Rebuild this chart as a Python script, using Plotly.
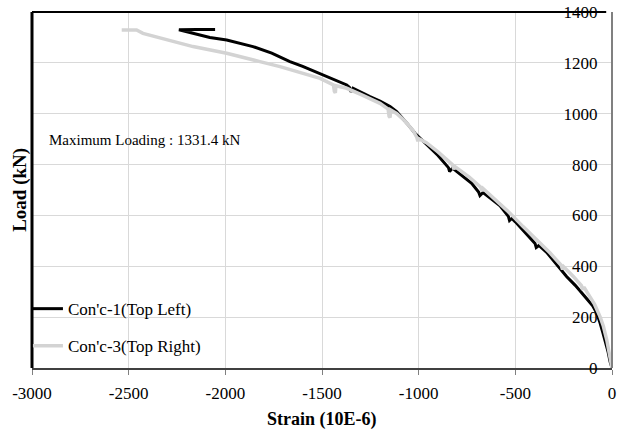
import plotly.graph_objects as go

# Con'c-1 (Top Left): strain (10E-6), load (kN)
strain_c1 = [0, -10, -20, -32, -47, -62, -79, -100, -125, -148, -190, -235, -290, -338, -378, -392, -398,
             -450, -500, -518, -530, -536, -579, -625, -667, -683, -690, -726, -780, -825, -840, -846,
             -900, -967, -1019, -1060, -1097, -1114, -1148, -1200, -1252, -1300, -1340, -1350, -1358,
             -1372, -1450, -1510, -1600, -1666, -1717, -1760, -1857, -1993, -2080, -2148, -2200, -2240,
             -2150, -2053]
load_c1 = [0, 25, 62, 100, 138, 178, 216, 245, 268, 287, 325, 360, 412, 455, 482, 474, 490,
           535, 575, 588, 580, 596, 638, 665, 690, 678, 692, 726, 760, 786, 773, 788,
           836, 884, 923, 962, 995, 1008, 1028, 1050, 1067, 1085, 1100, 1086, 1104,
           1113, 1138, 1159, 1186, 1205, 1224, 1238, 1264, 1290, 1300, 1312, 1322, 1330,
           1331, 1331]

# Con'c-3 (Top Right)
strain_c3 = [0, -8, -17, -27, -45, -62, -90, -120, -145, -152, -158, -200, -250, -256, -263, -320,
             -390, -460, -528, -580, -630, -667, -672, -680, -740, -812, -818, -826, -900, -960,
             -1000, -1004, -1010, -1029, -1070, -1114, -1145, -1148, -1153, -1158, -1165, -1200, -1300,
             -1372, -1428, -1431, -1436, -1441, -1510, -1600, -1666, -1717, -1821, -1993, -2167, -2338,
             -2426, -2459, -2536]
load_c3 = [0, 35, 75, 110, 165, 202, 250, 290, 318, 308, 324, 360, 398, 388, 404, 452,
           503, 556, 609, 645, 680, 706, 696, 712, 752, 792, 782, 800, 850, 886,
           902, 892, 908, 934, 970, 1001, 1015, 985, 990, 1018, 1022, 1041, 1076,
           1100, 1110, 1082, 1088, 1113, 1139, 1160, 1172, 1185, 1205, 1238, 1264, 1297,
           1316, 1329, 1329]

series_names = ["Con'c-1(Top Left)", "Con'c-3(Top Right)"]
x_ticks = [-3000, -2500, -2000, -1500, -1000, -500, 0]
y_ticks = [0, 200, 400, 600, 800, 1000, 1200, 1400]

FONT = "Liberation Serif"

fig = go.Figure()
fig.add_trace(go.Scatter(x=strain_c1, y=load_c1, mode="lines", name=series_names[0],
                         line=dict(color="#000000", width=3), legendgroup="a"))
fig.add_trace(go.Scatter(x=strain_c3, y=load_c3, mode="lines", name=series_names[1],
                         line=dict(color="#d3d3d3", width=3.5), legendgroup="b"))

fig.update_layout(
    width=626, height=436,
    margin=dict(l=32, r=14, t=12, b=68, autoexpand=False),
    paper_bgcolor="white", plot_bgcolor="white",
    font=dict(family=FONT, size=17, color="black"),
    showlegend=True,
    legend=dict(x=-0.007, y=0.216, xanchor="left", yanchor="top",
                bgcolor="rgba(0,0,0,0)", font=dict(family=FONT, size=17, color="black"),
                traceorder="grouped", tracegroupgap=12),
    xaxis=dict(range=[-3000, 0], tickvals=x_ticks, ticktext=[str(v) for v in x_ticks],
               showgrid=True, gridcolor="#d9d9d9", gridwidth=1, zeroline=False,
               showline=True, linecolor="#404040", linewidth=2, automargin=False,
               ticks="outside", ticklen=5, tickcolor="#808080",
               ticklabelstandoff=4,
               tickfont=dict(family=FONT, size=17, color="black")),
    yaxis=dict(range=[0, 1400], tickvals=y_ticks, ticktext=[str(v) for v in y_ticks],
               side="left", anchor="free", position=1, automargin=False,
               showgrid=True, gridcolor="#d9d9d9", gridwidth=1, zeroline=False,
               showline=True, linecolor="#808080", linewidth=2,
               ticks="outside", ticklen=4, tickcolor="rgba(0,0,0,0)",
               ticklabelstandoff=6,
               tickfont=dict(family=FONT, size=17, color="black")),
    shapes=[
        dict(type="rect", xref="paper", yref="paper", x0=0.003, x1=0.302, y0=0.031, y1=0.183,
             fillcolor="white", line=dict(width=0), layer="between"),
        dict(type="line", xref="paper", yref="paper", x0=0, x1=0, y0=0, y1=1,
             line=dict(color="black", width=3), layer="above"),
        dict(type="line", xref="paper", yref="paper", x0=0, x1=0.99, y0=1, y1=1,
             line=dict(color="black", width=2), layer="above"),
    ],
    annotations=[
        dict(text="Maximum Loading : 1331.4 kN", xref="paper", yref="paper",
             x=0.026, y=0.640, xanchor="left", yanchor="middle", showarrow=False,
             font=dict(family=FONT, size=15, color="black")),
        dict(text="<b>Strain (10E-6)</b>", xref="paper", yref="paper",
             x=0.5, y=-0.146, xanchor="center", yanchor="middle", showarrow=False,
             font=dict(family=FONT, size=18, color="black")),
        dict(text="<b>Load (kN)</b>", xref="paper", yref="paper",
             x=-0.021, y=0.5, xanchor="center", yanchor="middle", showarrow=False,
             textangle=-90, font=dict(family=FONT, size=19, color="black")),
    ],
)

fig.write_html("out.html")
